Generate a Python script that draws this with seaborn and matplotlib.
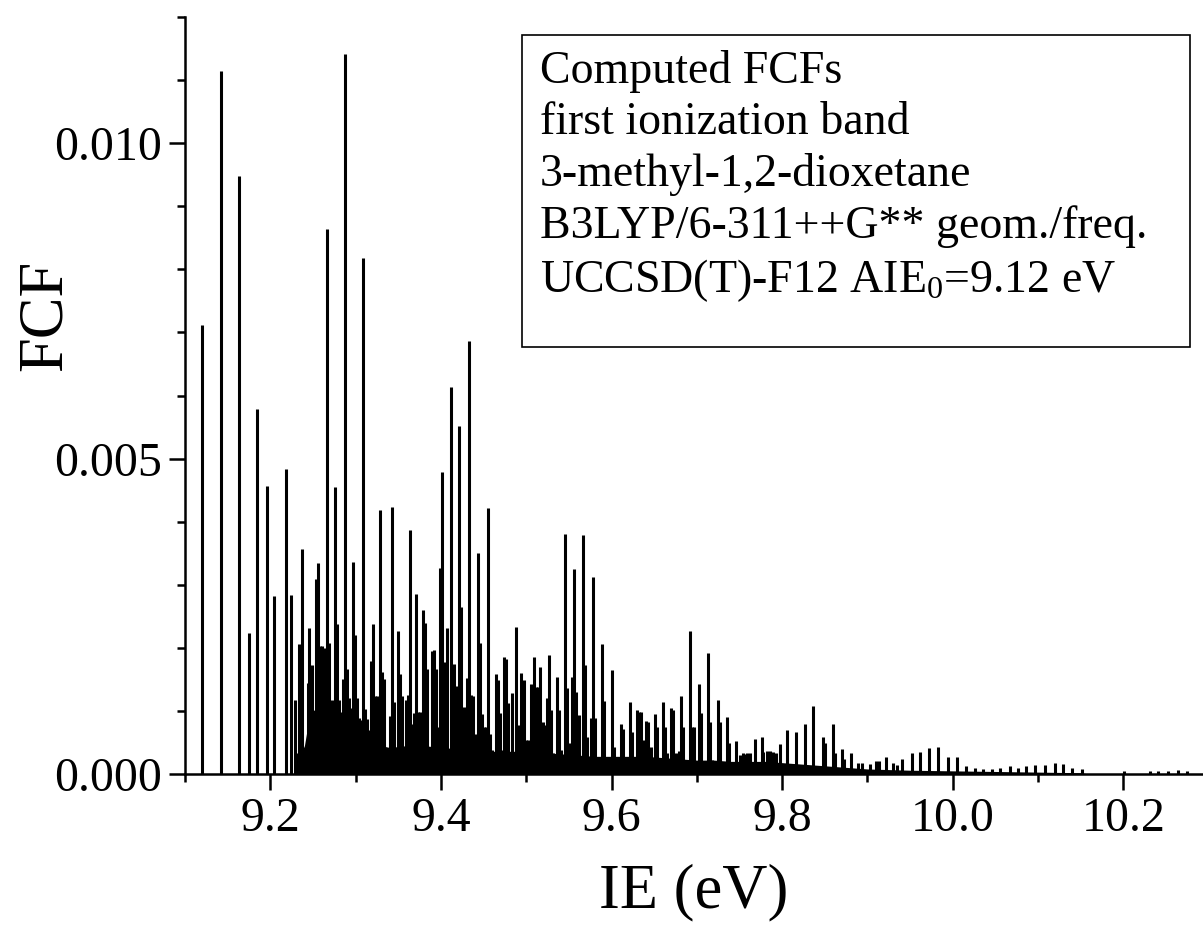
import numpy as np
import matplotlib
matplotlib.use("Agg")
import matplotlib.pyplot as plt
import seaborn as sns
from matplotlib.ticker import MultipleLocator, FormatStrFormatter
from matplotlib.patches import Rectangle

# ---------------- data (stick spectrum, FCF in units of 1e-3) ----------------
ie_ev = [
    9.1203, 9.1418, 9.1633, 9.1750, 9.1848, 9.1961, 9.2047, 9.2180, 9.2243, 9.2290,
    9.2305, 9.2340, 9.2376, 9.2438, 9.2458, 9.2485, 9.2508, 9.2536, 9.2559, 9.2583,
    9.2606, 9.2641, 9.2665, 9.2688, 9.2719, 9.2759, 9.2782, 9.2805, 9.2821, 9.2852,
    9.2876, 9.2899, 9.2923, 9.2946, 9.2973, 9.2997, 9.3020, 9.3040, 9.3063, 9.3090,
    9.3110, 9.3134, 9.3157, 9.3181, 9.3208, 9.3227, 9.3251, 9.3290, 9.3313, 9.3333,
    9.3356, 9.3399, 9.3423, 9.3446, 9.3470, 9.3501, 9.3524, 9.3548, 9.3571, 9.3595,
    9.3610, 9.3634, 9.3657, 9.3681, 9.3704, 9.3728, 9.3759, 9.3786, 9.3814, 9.3837,
    9.3868, 9.3892, 9.3915, 9.3939, 9.3962, 9.3993, 9.4017, 9.4040, 9.4072, 9.4114,
    9.4150, 9.4185, 9.4216, 9.4236, 9.4267, 9.4306, 9.4333, 9.4353, 9.4376, 9.4408,
    9.4431, 9.4455, 9.4478, 9.4501, 9.4525, 9.4548, 9.4572, 9.4595, 9.4642, 9.4666,
    9.4693, 9.4712, 9.4740, 9.4763, 9.4787, 9.4834, 9.4881, 9.4904, 9.4943, 9.4974,
    9.4998, 9.5021, 9.5056, 9.5092, 9.5115, 9.5135, 9.5162, 9.5193, 9.5217, 9.5240,
    9.5264, 9.5287, 9.5318, 9.5357, 9.5389, 9.5412, 9.5459, 9.5482, 9.5514, 9.5537,
    9.5560, 9.5588, 9.5615, 9.5670, 9.5693, 9.5717, 9.5764, 9.5787, 9.5811, 9.5889,
    9.5912, 9.6006, 9.6029, 9.6108, 9.6131, 9.6217, 9.6241, 9.6303, 9.6327, 9.6350,
    9.6373, 9.6405, 9.6432, 9.6459, 9.6514, 9.6537, 9.6608, 9.6631, 9.6655, 9.6702,
    9.6725, 9.6756, 9.6788, 9.6819, 9.6842, 9.6920, 9.6944, 9.6967, 9.7030, 9.7053,
    9.7131, 9.7155, 9.7178, 9.7249, 9.7272, 9.7350, 9.7374, 9.7460, 9.7507, 9.7540,
    9.7565, 9.7585, 9.7620, 9.7679, 9.7765, 9.7780, 9.7818, 9.7858, 9.7897, 9.7930,
    9.7975, 9.8061, 9.8163, 9.8273, 9.8366, 9.8483, 9.8503, 9.8592, 9.8620, 9.8702,
    9.8725, 9.8804, 9.8893, 9.8932, 9.9030, 9.9100, 9.9140, 9.9214, 9.9304, 9.9343,
    9.9409, 9.9519, 9.9616, 9.9726, 9.9831, 9.9948, 10.0046, 10.0152, 10.0261, 10.0359,
    10.0457, 10.0554, 10.0671, 10.0769, 10.0859, 10.0965, 10.1082, 10.1199, 10.1289, 10.1402,
    10.1512, 10.2008, 10.2313, 10.2410, 10.2528, 10.2645, 10.2743,
]
fcf_milli = [
    7.12, 11.15, 9.48, 2.24, 5.79, 4.57, 2.82, 4.84, 2.84, 1.17,
    0.34, 2.06, 3.56, 1.44, 2.32, 1.72, 0.91, 3.09, 3.34, 2.03,
    2.03, 2.00, 8.64, 2.08, 1.18, 4.55, 2.37, 1.18, 0.99, 1.50,
    11.42, 1.67, 1.20, 1.04, 3.36, 2.20, 1.20, 0.88, 0.85, 8.18,
    1.03, 0.87, 0.70, 1.79, 2.37, 1.23, 1.24, 4.19, 1.62, 1.50,
    0.38, 0.92, 4.24, 1.14, 0.33, 2.26, 1.58, 1.23, 0.38, 1.18,
    1.25, 3.86, 0.80, 0.96, 2.86, 0.98, 0.98, 2.60, 2.40, 1.67,
    0.43, 1.95, 1.96, 1.67, 0.75, 3.27, 4.78, 1.78, 2.31, 6.13,
    1.75, 1.40, 5.52, 2.64, 1.07, 1.52, 6.87, 1.25, 1.24, 0.64,
    3.50, 2.07, 0.95, 0.75, 0.75, 4.22, 0.64, 0.38, 1.58, 1.49,
    0.97, 0.38, 1.86, 1.82, 1.12, 1.29, 2.33, 0.78, 1.60, 1.49,
    0.54, 0.54, 1.43, 1.85, 1.38, 1.38, 1.70, 0.83, 0.78, 1.20,
    1.88, 1.01, 0.33, 1.54, 1.01, 0.38, 3.81, 1.36, 0.49, 1.54,
    3.25, 1.30, 0.94, 3.79, 1.73, 0.59, 0.88, 3.13, 0.88, 2.06,
    1.16, 1.65, 0.43, 0.79, 0.71, 1.14, 0.66, 1.02, 0.99, 0.99,
    0.54, 0.84, 0.82, 0.43, 0.95, 0.75, 1.14, 0.75, 0.33, 1.04,
    1.02, 0.33, 0.36, 1.23, 0.75, 2.26, 0.75, 0.75, 1.43, 0.96,
    1.92, 0.82, 0.22, 1.18, 0.82, 0.91, 0.49, 0.53, 0.30, 0.33,
    0.32, 0.33, 0.33, 0.55, 0.59, 0.35, 0.36, 0.36, 0.35, 0.33,
    0.48, 0.69, 0.66, 0.80, 1.08, 0.59, 0.49, 0.79, 0.33, 0.39,
    0.23, 0.33, 0.17, 0.17, 0.16, 0.21, 0.21, 0.27, 0.18, 0.15,
    0.23, 0.33, 0.35, 0.42, 0.43, 0.27, 0.27, 0.12, 0.10, 0.08,
    0.08, 0.10, 0.12, 0.10, 0.12, 0.14, 0.14, 0.18, 0.16, 0.10,
    0.08, 0.04, 0.05, 0.05, 0.05, 0.07, 0.05,
]

# dense unresolved background (lower envelope of the crowded sticks)
bg_ev = [9.228, 9.232, 9.240, 9.245, 9.250, 9.255, 9.260, 9.265, 9.270, 9.275,
         9.280, 9.290, 9.300, 9.310, 9.320, 9.330, 9.340, 9.360, 9.380, 9.400,
         9.420, 9.440, 9.460, 9.480, 9.500, 9.520, 9.540, 9.560, 9.580, 9.600,
         9.620, 9.640, 9.660, 9.680, 9.700, 9.720, 9.740, 9.760, 9.780, 9.800,
         9.820, 9.840, 9.860, 9.880, 9.900, 9.950, 10.000, 10.050, 10.100, 10.150, 10.160]
bg_milli = [0.00, 0.20, 0.45, 0.85, 1.00, 1.05, 0.95, 1.00, 0.90, 0.80,
            0.72, 0.60, 0.52, 0.48, 0.50, 0.45, 0.42, 0.45, 0.45, 0.42,
            0.40, 0.38, 0.36, 0.36, 0.36, 0.34, 0.32, 0.30, 0.28, 0.28,
            0.28, 0.28, 0.26, 0.24, 0.22, 0.22, 0.20, 0.20, 0.20, 0.18,
            0.16, 0.14, 0.12, 0.10, 0.08, 0.06, 0.05, 0.04, 0.03, 0.02, 0.00]

x_ticks = [9.2, 9.4, 9.6, 9.8, 10.0, 10.2]
y_ticks = [0.000, 0.005, 0.010]
info_lines = [
    "Computed FCFs",
    "first ionization band",
    "3-methyl-1,2-dioxetane",
    "B3LYP/6-311++G** geom./freq.",
    r"UCCSD(T)-F12 AIE$_0$=9.12 eV",
]

# ---------------- style ----------------
sns.set_theme(style="ticks")
plt.rcParams["font.family"] = ["Liberation Serif", "DejaVu Serif"]
plt.rcParams["mathtext.fontset"] = "custom"
plt.rcParams["mathtext.rm"] = "Liberation Serif"
plt.rcParams["mathtext.it"] = "Liberation Serif"

W, H = 1203, 925
fig = plt.figure(figsize=(W / 100, H / 100), dpi=100)
fig.patch.set_facecolor("white")
ax = fig.add_axes([185 / W, 1 - 774 / H, (W - 185) / W, (774 - 17) / H])
ax.set_facecolor("white")

x = np.asarray(ie_ev)
y = np.asarray(fcf_milli) * 1e-3
bx = np.asarray(bg_ev)
by = np.asarray(bg_milli) * 1e-3

ax.fill_between(bx, 0, by, color="black", linewidth=0)
ax.vlines(x, 0, y, color="black", linewidth=2.2)

ax.set_xlim(9.1, 9.1 + (W - 185) / 853.0)
ax.set_ylim(0, 0.012)

sns.despine(ax=ax)
for s in ("left", "bottom"):
    ax.spines[s].set_linewidth(1.8)
    ax.spines[s].set_color("black")

ax.set_xticks(x_ticks)
ax.xaxis.set_minor_locator(MultipleLocator(0.1))
ax.set_yticks(y_ticks)
ax.yaxis.set_minor_locator(MultipleLocator(0.001))
ax.yaxis.set_major_formatter(FormatStrFormatter("%.3f"))
ax.xaxis.set_major_formatter(FormatStrFormatter("%.1f"))
ax.tick_params(which="major", direction="out", length=11.5, width=1.8,
               labelsize=34.5, colors="black", pad=5)
ax.tick_params(which="minor", direction="out", length=6, width=1.8, colors="black")

ax.set_xlabel("IE (eV)", fontsize=45, color="black")
ax.set_ylabel("FCF", fontsize=45, color="black")
ax.xaxis.set_label_coords(0.5, -0.118)
ax.yaxis.set_label_coords(-0.108, 0.606)

# info box
box_l, box_r = (522 - 185) / (W - 185), (1190 - 185) / (W - 185)
box_t, box_b = (774 - 35) / (774 - 17), (774 - 347) / (774 - 17)
ax.add_patch(Rectangle((box_l, box_b), box_r - box_l, box_t - box_b,
                       transform=ax.transAxes, fill=False, edgecolor="black",
                       linewidth=1.2, zorder=5))
ax.text((540 - 185) / (W - 185), (774 - 50) / (774 - 17), "\n".join(info_lines),
        transform=ax.transAxes, ha="left", va="top", fontsize=33,
        linespacing=1.27, color="black", zorder=6)

fig.savefig("out.png", dpi=100, facecolor="white")
